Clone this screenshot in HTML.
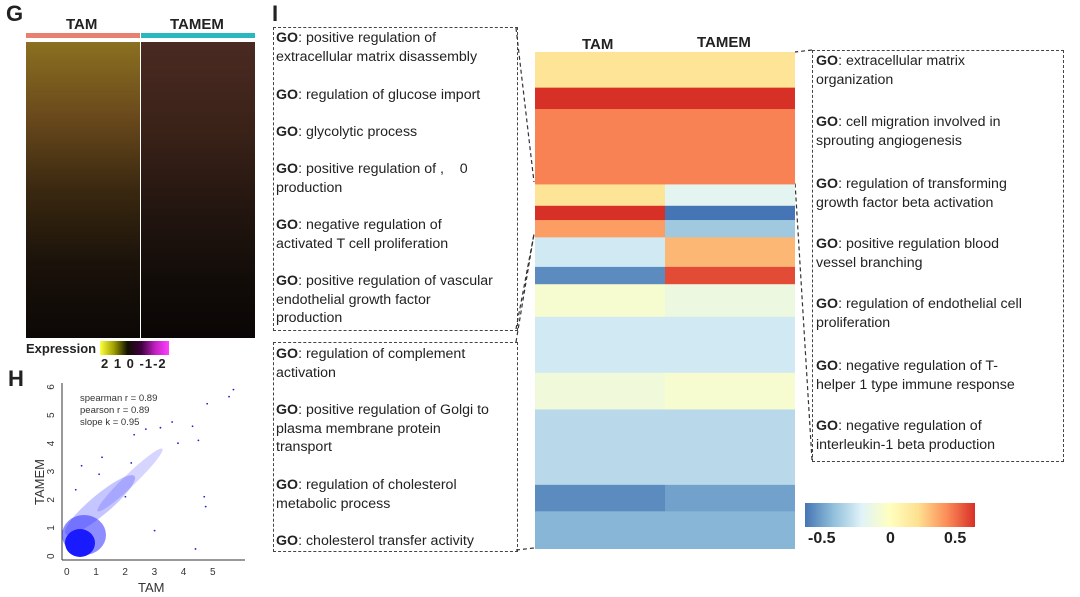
<!DOCTYPE html>
<html><head><meta charset="utf-8"><style>
body{margin:0;width:1080px;height:597px;background:#fff;overflow:hidden;position:relative;font-family:"Liberation Sans",sans-serif;color:#222}
.abs{position:absolute}
.box{position:absolute;border:1.3px dashed #444}
.go{position:absolute;font-size:14.2px;line-height:18.5px;white-space:nowrap}
.go b{font-weight:bold}
.lbl{position:absolute;font-weight:bold}
</style></head><body>
<div class="lbl" style="left:6px;top:1px;font-size:22px">G</div>
<div class="lbl" style="left:8px;top:366px;font-size:22px">H</div>
<div class="lbl" style="left:272px;top:1px;font-size:22px">I</div>

<!-- Panel H -->
<svg class="abs" style="left:0;top:0" width="270" height="597">
<line x1="62" y1="383" x2="62" y2="560" stroke="#333"/><line x1="62" y1="560" x2="245" y2="560" stroke="#333"/>
<g id="yt" font-size="10" fill="#333"></g><g id="xt" font-size="10" fill="#333"></g>
<ellipse cx="100" cy="505" rx="45" ry="10" fill="#4040ff" opacity="0.3" transform="rotate(-40 100 505)"/>
<ellipse cx="130" cy="480" rx="45" ry="6" fill="#4040ff" opacity="0.22" transform="rotate(-44 130 480)"/>
<ellipse cx="84" cy="535" rx="22" ry="20" fill="#3030ff" opacity="0.55"/>
<ellipse cx="80" cy="543" rx="15" ry="14" fill="#1a1aff"/>
<g id="pts" fill="#2222cc"></g>
<text x="80" y="401" font-size="9.5" fill="#333">spearman r =  0.89</text>
<text x="80" y="413" font-size="9.5" fill="#333">pearson r =  0.89</text>
<text x="80" y="425" font-size="9.5" fill="#333">slope k =  0.95</text>
<text x="138" y="592" font-size="13" fill="#333">TAM</text>
<text transform="translate(44,505) rotate(-90)" font-size="13" fill="#333">TAMEM</text>
</svg>

<!-- Panel G -->
<div class="lbl" style="left:66px;top:16px;font-size:15px">TAM</div>
<div class="lbl" style="left:170px;top:16px;font-size:15px">TAMEM</div>
<div class="abs" style="left:26px;top:33px;width:114px;height:5px;background:#e8806f"></div>
<div class="abs" style="left:141px;top:33px;width:114px;height:5px;background:#2ab8c0"></div>
<div class="abs" style="left:26px;top:42px;width:114px;height:296px;background:linear-gradient(180deg,#8a7020 0%,#6a4a1c 25%,#3a2810 50%,#1a120a 75%,#0c0806 100%)"></div>
<div class="abs" style="left:141px;top:42px;width:114px;height:296px;background:linear-gradient(180deg,#4a2a22 0%,#3a2218 30%,#241610 55%,#120c08 80%,#0a0606 100%)"></div>
<div class="abs" style="left:100px;top:341px;width:69px;height:14px;background:linear-gradient(90deg,#ffff40,#a0a000,#101000,#400040,#c020c0,#ff40ff)"></div>
<div class="abs" style="left:26px;top:341px;font-size:13px;font-weight:bold">Expression</div>
<div class="abs" style="left:101px;top:356px;font-size:13px;font-weight:bold;letter-spacing:1px">2 1 0 -1-2</div>

<!-- Panel I boxes -->
<div class="box" style="left:273px;top:27px;width:243px;height:302px"></div>
<div class="box" style="left:273px;top:342px;width:243px;height:208px"></div>
<div class="box" style="left:812px;top:50px;width:250px;height:410px"></div>
<svg class="abs" style="left:0;top:0" width="1080" height="597">
<g stroke="#333" stroke-dasharray="4,3" fill="none" stroke-width="1.2">
<line x1="516" y1="28" x2="534" y2="182"/><line x1="516" y1="329" x2="534" y2="234"/>
<line x1="516" y1="342" x2="534" y2="234"/><line x1="516" y1="550" x2="534" y2="548"/>
<line x1="812" y1="50" x2="795" y2="52"/><line x1="812" y1="460" x2="795" y2="182"/>
</g></svg>

<div class="go" style="left:276px;top:29px"><b>GO</b>: positive regulation of<br>extracellular matrix disassembly</div>
<div class="go" style="left:276px;top:86px"><b>GO</b>: regulation of glucose import</div>
<div class="go" style="left:276px;top:123px"><b>GO</b>: glycolytic process</div>
<div class="go" style="left:276px;top:160px"><b>GO</b>: positive regulation of ,&nbsp;&nbsp;&nbsp;&nbsp;0<br>production</div>
<div class="go" style="left:276px;top:216px"><b>GO</b>: negative regulation of<br>activated T cell proliferation</div>
<div class="go" style="left:276px;top:272px"><b>GO</b>: positive regulation of vascular<br>endothelial growth factor<br>production</div>
<div class="go" style="left:276px;top:345px"><b>GO</b>: regulation of complement<br>activation</div>
<div class="go" style="left:276px;top:401px"><b>GO</b>: positive regulation of Golgi to<br>plasma membrane protein<br>transport</div>
<div class="go" style="left:276px;top:476px"><b>GO</b>: regulation of cholesterol<br>metabolic process</div>
<div class="go" style="left:276px;top:532px"><b>GO</b>: cholesterol transfer activity</div>

<div class="go" style="left:816px;top:52px"><b>GO</b>: extracellular matrix<br>organization</div>
<div class="go" style="left:816px;top:113px"><b>GO</b>: cell migration involved in<br>sprouting angiogenesis</div>
<div class="go" style="left:816px;top:175px"><b>GO</b>: regulation of transforming<br>growth factor beta activation</div>
<div class="go" style="left:816px;top:235px"><b>GO</b>: positive regulation blood<br>vessel branching</div>
<div class="go" style="left:816px;top:295px"><b>GO</b>: regulation of endothelial cell<br>proliferation</div>
<div class="go" style="left:816px;top:357px"><b>GO</b>: negative regulation of T-<br>helper 1 type immune response</div>
<div class="go" style="left:816px;top:417px"><b>GO</b>: negative regulation of<br>interleukin-1 beta production</div>

<div class="lbl" style="left:582px;top:36px;font-size:15px">TAM</div>
<div class="lbl" style="left:697px;top:34px;font-size:15px">TAMEM</div>
<svg class="abs" style="left:535px;top:52px" width="260" height="497" id="hm"></svg>

<div class="abs" style="left:805px;top:503px;width:170px;height:24px;background:linear-gradient(90deg,#4575b4,#91bfdb,#e0f3f8,#ffffbf,#fee090,#fc8d59,#d73027)"></div>
<div class="abs" style="left:808px;top:530px;font-size:16px;font-weight:bold">-0.5</div>
<div class="abs" style="left:886px;top:530px;font-size:16px;font-weight:bold">0</div>
<div class="abs" style="left:944px;top:530px;font-size:16px;font-weight:bold">0.5</div>

<script>
// Panel I heatmap data
const tamValues   = [0.15,0.5,0.35,0.15,0.5,0.3,-0.2,-0.45,-0.05,-0.2,-0.08,-0.25,-0.45,-0.35];
const tamemValues = [0.15,0.5,0.35,-0.15,-0.5,-0.3,0.25,0.45,-0.1,-0.2,-0.05,-0.25,-0.4,-0.35];
const rowGenes    = [35,21,74,21,14,17,29,17,32,55,36,74,26,37];
// Panel H scatter data
const tamX   = [5.7,5.55,4.8,4.3,4.5,3.6,4.7,4.75,2.3,1.2,0.5,3.8,2.7,2.2,0.3,3.2,4.4,3.0,1.1,2.0];
const tamemY = [5.9,5.65,5.4,4.6,4.1,4.75,2.1,1.75,4.3,3.5,3.2,4.0,4.5,3.3,2.35,4.55,0.25,0.9,2.9,2.1];
const yTicks = [0,1,2,3,4,5,6];
const xTicks = [0,1,2,3,4,5];

const stops=[[-0.5,[69,117,180]],[-0.33,[145,191,219]],[-0.17,[224,243,248]],[0,[255,255,191]],[0.17,[254,224,144]],[0.33,[252,141,89]],[0.5,[215,48,39]]];
function col(v){v=Math.max(-0.5,Math.min(0.5,v));for(let i=0;i<stops.length-1;i++){const[a,ca]=stops[i],[b,cb]=stops[i+1];if(v<=b){const t=(v-a)/(b-a);return 'rgb('+ca.map((c,j)=>Math.round(c+(cb[j]-c)*t)).join(',')+')';}}}
const hm=document.getElementById('hm');const NS='http://www.w3.org/2000/svg';
const total=rowGenes.reduce((a,b)=>a+b,0);const H=497,W=260;
let y=0;
rowGenes.forEach((g,i)=>{const h=g/total*H;
 [[tamValues[i],0],[tamemValues[i],W/2]].forEach(([v,x],k)=>{
  const r=document.createElementNS(NS,'rect');
  r.setAttribute('x',x);r.setAttribute('y',y);r.setAttribute('width',W/2);r.setAttribute('height',h+0.5);r.setAttribute('fill',col(v));
  
  
  hm.appendChild(r);});
 y+=h;});

// Scatter axes
const sx=v=>67+v*29.2, sy=v=>556-v*28.2;
const yt=document.getElementById('yt'),xt=document.getElementById('xt'),pts=document.getElementById('pts');
yTicks.forEach(t=>{const e=document.createElementNS(NS,'text');e.setAttribute('transform','translate(54,'+(sy(t)+3)+') rotate(-90)');e.textContent=t;
 
 yt.appendChild(e);});
xTicks.forEach(t=>{const e=document.createElementNS(NS,'text');e.setAttribute('x',sx(t)-3);e.setAttribute('y',575);e.textContent=t;
 
 xt.appendChild(e);});
tamX.forEach((v,i)=>{const c=document.createElementNS(NS,'circle');c.setAttribute('cx',sx(v));c.setAttribute('cy',sy(tamemY[i]));c.setAttribute('r',0.9);
 
 pts.appendChild(c);});
</script>
</body></html>
